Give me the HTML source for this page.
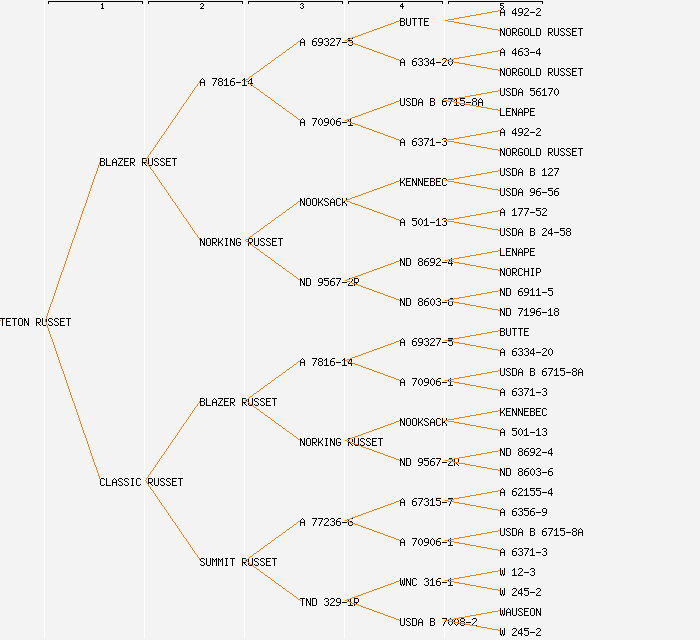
<!DOCTYPE html>
<html><head><meta charset="utf-8"><title>Pedigree: TETON RUSSET</title>
<style>
html,body{margin:0;padding:0;background:#f3f3f3;width:700px;height:640px;overflow:hidden;font-family:"Liberation Mono",monospace;}
svg{display:block;position:absolute;left:0;top:0;}
</style></head><body>
<svg width="700" height="640" viewBox="0 0 700 640" shape-rendering="crispEdges">
<defs><path id="gm" d="M0 4h5v1h-5z"/><path id="g0" d="M2 0h1v1h-1zM1 1h1v1h-1zM3 1h1v1h-1zM0 2h1v1h-1zM4 2h1v1h-1zM0 3h1v1h-1zM4 3h1v1h-1zM0 4h1v1h-1zM4 4h1v1h-1zM0 5h1v1h-1zM4 5h1v1h-1zM1 6h1v1h-1zM3 6h1v1h-1zM2 7h1v1h-1z"/><path id="g1" d="M2 0h1v1h-1zM1 1h2v1h-2zM0 2h1v1h-1zM2 2h1v1h-1zM2 3h1v1h-1zM2 4h1v1h-1zM2 5h1v1h-1zM2 6h1v1h-1zM0 7h5v1h-5z"/><path id="g2" d="M1 0h3v1h-3zM0 1h1v1h-1zM4 1h1v1h-1zM4 2h1v1h-1zM3 3h1v1h-1zM2 4h1v1h-1zM1 5h1v1h-1zM0 6h1v1h-1zM0 7h5v1h-5z"/><path id="g3" d="M1 0h3v1h-3zM0 1h1v1h-1zM4 1h1v1h-1zM4 2h1v1h-1zM2 3h2v1h-2zM4 4h1v1h-1zM4 5h1v1h-1zM0 6h1v1h-1zM4 6h1v1h-1zM1 7h3v1h-3z"/><path id="g4" d="M3 0h1v1h-1zM2 1h2v1h-2zM1 2h1v1h-1zM3 2h1v1h-1zM0 3h1v1h-1zM3 3h1v1h-1zM0 4h1v1h-1zM3 4h1v1h-1zM0 5h5v1h-5zM3 6h1v1h-1zM3 7h1v1h-1z"/><path id="g5" d="M0 0h5v1h-5zM0 1h1v1h-1zM0 2h4v1h-4zM4 3h1v1h-1zM4 4h1v1h-1zM4 5h1v1h-1zM0 6h1v1h-1zM4 6h1v1h-1zM1 7h3v1h-3z"/><path id="g6" d="M2 0h3v1h-3zM1 1h1v1h-1zM0 2h1v1h-1zM0 3h4v1h-4zM0 4h1v1h-1zM4 4h1v1h-1zM0 5h1v1h-1zM4 5h1v1h-1zM0 6h1v1h-1zM4 6h1v1h-1zM1 7h3v1h-3z"/><path id="g7" d="M0 0h5v1h-5zM4 1h1v1h-1zM3 2h1v1h-1zM3 3h1v1h-1zM2 4h1v1h-1zM2 5h1v1h-1zM1 6h1v1h-1zM1 7h1v1h-1z"/><path id="g8" d="M1 0h3v1h-3zM0 1h1v1h-1zM4 1h1v1h-1zM0 2h1v1h-1zM4 2h1v1h-1zM1 3h3v1h-3zM0 4h1v1h-1zM4 4h1v1h-1zM0 5h1v1h-1zM4 5h1v1h-1zM0 6h1v1h-1zM4 6h1v1h-1zM1 7h3v1h-3z"/><path id="g9" d="M1 0h3v1h-3zM0 1h1v1h-1zM4 1h1v1h-1zM0 2h1v1h-1zM4 2h1v1h-1zM0 3h1v1h-1zM4 3h1v1h-1zM1 4h4v1h-4zM4 5h1v1h-1zM3 6h1v1h-1zM0 7h3v1h-3z"/><path id="gA" d="M2 0h1v1h-1zM1 1h1v1h-1zM3 1h1v1h-1zM0 2h1v1h-1zM4 2h1v1h-1zM0 3h1v1h-1zM4 3h1v1h-1zM0 4h5v1h-5zM0 5h1v1h-1zM4 5h1v1h-1zM0 6h1v1h-1zM4 6h1v1h-1zM0 7h1v1h-1zM4 7h1v1h-1z"/><path id="gB" d="M0 0h4v1h-4zM0 1h1v1h-1zM4 1h1v1h-1zM0 2h1v1h-1zM4 2h1v1h-1zM0 3h4v1h-4zM0 4h1v1h-1zM4 4h1v1h-1zM0 5h1v1h-1zM4 5h1v1h-1zM0 6h1v1h-1zM4 6h1v1h-1zM0 7h4v1h-4z"/><path id="gC" d="M1 0h3v1h-3zM0 1h1v1h-1zM4 1h1v1h-1zM0 2h1v1h-1zM0 3h1v1h-1zM0 4h1v1h-1zM0 5h1v1h-1zM0 6h1v1h-1zM4 6h1v1h-1zM1 7h3v1h-3z"/><path id="gD" d="M0 0h4v1h-4zM0 1h1v1h-1zM4 1h1v1h-1zM0 2h1v1h-1zM4 2h1v1h-1zM0 3h1v1h-1zM4 3h1v1h-1zM0 4h1v1h-1zM4 4h1v1h-1zM0 5h1v1h-1zM4 5h1v1h-1zM0 6h1v1h-1zM4 6h1v1h-1zM0 7h4v1h-4z"/><path id="gE" d="M0 0h5v1h-5zM0 1h1v1h-1zM0 2h1v1h-1zM0 3h4v1h-4zM0 4h1v1h-1zM0 5h1v1h-1zM0 6h1v1h-1zM0 7h5v1h-5z"/><path id="gG" d="M1 0h3v1h-3zM0 1h1v1h-1zM4 1h1v1h-1zM0 2h1v1h-1zM0 3h1v1h-1zM0 4h1v1h-1zM2 4h3v1h-3zM0 5h1v1h-1zM4 5h1v1h-1zM0 6h1v1h-1zM4 6h1v1h-1zM1 7h3v1h-3z"/><path id="gH" d="M0 0h1v1h-1zM4 0h1v1h-1zM0 1h1v1h-1zM4 1h1v1h-1zM0 2h1v1h-1zM4 2h1v1h-1zM0 3h5v1h-5zM0 4h1v1h-1zM4 4h1v1h-1zM0 5h1v1h-1zM4 5h1v1h-1zM0 6h1v1h-1zM4 6h1v1h-1zM0 7h1v1h-1zM4 7h1v1h-1z"/><path id="gI" d="M1 0h3v1h-3zM2 1h1v1h-1zM2 2h1v1h-1zM2 3h1v1h-1zM2 4h1v1h-1zM2 5h1v1h-1zM2 6h1v1h-1zM1 7h3v1h-3z"/><path id="gK" d="M0 0h1v1h-1zM4 0h1v1h-1zM0 1h1v1h-1zM4 1h1v1h-1zM0 2h1v1h-1zM3 2h1v1h-1zM0 3h1v1h-1zM2 3h1v1h-1zM0 4h3v1h-3zM0 5h1v1h-1zM3 5h1v1h-1zM0 6h1v1h-1zM4 6h1v1h-1zM0 7h1v1h-1zM4 7h1v1h-1z"/><path id="gL" d="M0 0h1v1h-1zM0 1h1v1h-1zM0 2h1v1h-1zM0 3h1v1h-1zM0 4h1v1h-1zM0 5h1v1h-1zM0 6h1v1h-1zM0 7h5v1h-5z"/><path id="gM" d="M0 0h1v1h-1zM4 0h1v1h-1zM0 1h2v1h-2zM3 1h2v1h-2zM0 2h1v1h-1zM2 2h1v1h-1zM4 2h1v1h-1zM0 3h1v1h-1zM2 3h1v1h-1zM4 3h1v1h-1zM0 4h1v1h-1zM4 4h1v1h-1zM0 5h1v1h-1zM4 5h1v1h-1zM0 6h1v1h-1zM4 6h1v1h-1zM0 7h1v1h-1zM4 7h1v1h-1z"/><path id="gN" d="M0 0h1v1h-1zM4 0h1v1h-1zM0 1h2v1h-2zM4 1h1v1h-1zM0 2h2v1h-2zM4 2h1v1h-1zM0 3h1v1h-1zM2 3h1v1h-1zM4 3h1v1h-1zM0 4h1v1h-1zM2 4h1v1h-1zM4 4h1v1h-1zM0 5h1v1h-1zM3 5h2v1h-2zM0 6h1v1h-1zM3 6h2v1h-2zM0 7h1v1h-1zM4 7h1v1h-1z"/><path id="gO" d="M1 0h3v1h-3zM0 1h1v1h-1zM4 1h1v1h-1zM0 2h1v1h-1zM4 2h1v1h-1zM0 3h1v1h-1zM4 3h1v1h-1zM0 4h1v1h-1zM4 4h1v1h-1zM0 5h1v1h-1zM4 5h1v1h-1zM0 6h1v1h-1zM4 6h1v1h-1zM1 7h3v1h-3z"/><path id="gP" d="M0 0h4v1h-4zM0 1h1v1h-1zM4 1h1v1h-1zM0 2h1v1h-1zM4 2h1v1h-1zM0 3h1v1h-1zM4 3h1v1h-1zM0 4h4v1h-4zM0 5h1v1h-1zM0 6h1v1h-1zM0 7h1v1h-1z"/><path id="gR" d="M0 0h4v1h-4zM0 1h1v1h-1zM4 1h1v1h-1zM0 2h1v1h-1zM4 2h1v1h-1zM0 3h1v1h-1zM4 3h1v1h-1zM0 4h4v1h-4zM0 5h1v1h-1zM2 5h1v1h-1zM0 6h1v1h-1zM3 6h1v1h-1zM0 7h1v1h-1zM4 7h1v1h-1z"/><path id="gS" d="M1 0h3v1h-3zM0 1h1v1h-1zM4 1h1v1h-1zM0 2h1v1h-1zM1 3h2v1h-2zM3 4h1v1h-1zM4 5h1v1h-1zM0 6h1v1h-1zM4 6h1v1h-1zM1 7h3v1h-3z"/><path id="gT" d="M0 0h5v1h-5zM2 1h1v1h-1zM2 2h1v1h-1zM2 3h1v1h-1zM2 4h1v1h-1zM2 5h1v1h-1zM2 6h1v1h-1zM2 7h1v1h-1z"/><path id="gU" d="M0 0h1v1h-1zM4 0h1v1h-1zM0 1h1v1h-1zM4 1h1v1h-1zM0 2h1v1h-1zM4 2h1v1h-1zM0 3h1v1h-1zM4 3h1v1h-1zM0 4h1v1h-1zM4 4h1v1h-1zM0 5h1v1h-1zM4 5h1v1h-1zM0 6h1v1h-1zM4 6h1v1h-1zM1 7h3v1h-3z"/><path id="gW" d="M0 0h1v1h-1zM4 0h1v1h-1zM0 1h1v1h-1zM4 1h1v1h-1zM0 2h1v1h-1zM2 2h1v1h-1zM4 2h1v1h-1zM0 3h1v1h-1zM2 3h1v1h-1zM4 3h1v1h-1zM0 4h1v1h-1zM2 4h1v1h-1zM4 4h1v1h-1zM0 5h1v1h-1zM2 5h1v1h-1zM4 5h1v1h-1zM0 6h2v1h-2zM3 6h2v1h-2zM1 7h1v1h-1zM3 7h1v1h-1z"/><path id="gZ" d="M0 0h5v1h-5zM4 1h1v1h-1zM3 2h1v1h-1zM2 3h1v1h-1zM2 4h1v1h-1zM1 5h1v1h-1zM0 6h1v1h-1zM0 7h5v1h-5z"/><path id="h1" d="M2 0h1v1h-1zM1 1h2v1h-2zM2 2h1v1h-1zM2 3h1v1h-1zM2 4h1v1h-1zM1 5h3v1h-3z"/><path id="h2" d="M1 0h2v1h-2zM0 1h1v1h-1zM3 1h1v1h-1zM3 2h1v1h-1zM2 3h1v1h-1zM1 4h1v1h-1zM0 5h4v1h-4z"/><path id="h3" d="M1 0h2v1h-2zM0 1h1v1h-1zM3 1h1v1h-1zM2 2h1v1h-1zM3 3h1v1h-1zM0 4h1v1h-1zM3 4h1v1h-1zM1 5h2v1h-2z"/><path id="h4" d="M2 0h1v1h-1zM1 1h2v1h-2zM0 2h1v1h-1zM2 2h1v1h-1zM0 3h4v1h-4zM2 4h1v1h-1zM2 5h1v1h-1z"/><path id="h5" d="M0 0h4v1h-4zM0 1h1v1h-1zM0 2h3v1h-3zM3 3h1v1h-1zM0 4h1v1h-1zM3 4h1v1h-1zM1 5h2v1h-2z"/></defs>
<rect x="0" y="0" width="700" height="640" fill="#f3f3f3"/>
<rect x="44" y="0" width="1" height="638" fill="#ffffff"/><rect x="144" y="0" width="1" height="638" fill="#ffffff"/><rect x="244" y="0" width="1" height="638" fill="#ffffff"/><rect x="344" y="0" width="1" height="638" fill="#ffffff"/><rect x="444" y="0" width="1" height="638" fill="#ffffff"/><path fill="#000" d="M48 1h95v3h-1v-2h-93v2h-1zM148 1h95v3h-1v-2h-93v2h-1zM248 1h95v3h-1v-2h-93v2h-1zM348 1h95v3h-1v-2h-93v2h-1zM448 1h95v3h-1v-2h-93v2h-1z"/><use href="#h1" x="100" y="3"/><use href="#h2" x="200" y="3"/><use href="#h3" x="300" y="3"/><use href="#h4" x="400" y="3"/><use href="#h5" x="500" y="3"/>
<g fill="#000">
<path fill="#ff8000" d="M0 320h1v1h-1z"/><g aria-label="TETON RUSSET"><use href="#gT" x="0" y="318"/><use href="#gE" x="6" y="318"/><use href="#gT" x="12" y="318"/><use href="#gO" x="18" y="318"/><use href="#gN" x="24" y="318"/><use href="#gR" x="36" y="318"/><use href="#gU" x="42" y="318"/><use href="#gS" x="48" y="318"/><use href="#gS" x="54" y="318"/><use href="#gE" x="60" y="318"/><use href="#gT" x="66" y="318"/></g><path fill="#ff8000" d="M45 319h1v2h-1zM46 316h1v3h-1zM47 313h1v3h-1zM48 310h1v3h-1zM49 307h1v3h-1zM50 304h1v3h-1zM51 302h1v2h-1zM52 299h1v3h-1zM53 296h1v3h-1zM54 293h1v3h-1zM55 290h1v3h-1zM56 287h1v3h-1zM57 284h1v3h-1zM58 281h1v3h-1zM59 278h1v3h-1zM60 275h1v3h-1zM61 272h1v3h-1zM62 270h1v2h-1zM63 267h1v3h-1zM64 264h1v3h-1zM65 261h1v3h-1zM66 258h1v3h-1zM67 255h1v3h-1zM68 252h1v3h-1zM69 249h1v3h-1zM70 246h1v3h-1zM71 243h1v3h-1zM72 240h1v3h-1zM73 238h1v2h-1zM74 235h1v3h-1zM75 232h1v3h-1zM76 229h1v3h-1zM77 226h1v3h-1zM78 223h1v3h-1zM79 220h1v3h-1zM80 217h1v3h-1zM81 214h1v3h-1zM82 211h1v3h-1zM83 208h1v3h-1zM84 206h1v2h-1zM85 203h1v3h-1zM86 200h1v3h-1zM87 197h1v3h-1zM88 194h1v3h-1zM89 191h1v3h-1zM90 188h1v3h-1zM91 185h1v3h-1zM92 182h1v3h-1zM93 179h1v3h-1zM94 176h1v3h-1zM95 174h1v2h-1zM96 171h1v3h-1zM97 168h1v3h-1zM98 165h1v3h-1zM99 162h1v3h-1zM100 160h1v2h-1zM45 320h1v2h-1zM46 322h1v3h-1zM47 325h1v3h-1zM48 328h1v3h-1zM49 331h1v3h-1zM50 334h1v3h-1zM51 337h1v2h-1zM52 339h1v3h-1zM53 342h1v3h-1zM54 345h1v3h-1zM55 348h1v3h-1zM56 351h1v3h-1zM57 354h1v3h-1zM58 357h1v3h-1zM59 360h1v3h-1zM60 363h1v3h-1zM61 366h1v3h-1zM62 369h1v2h-1zM63 371h1v3h-1zM64 374h1v3h-1zM65 377h1v3h-1zM66 380h1v3h-1zM67 383h1v3h-1zM68 386h1v3h-1zM69 389h1v3h-1zM70 392h1v3h-1zM71 395h1v3h-1zM72 398h1v3h-1zM73 401h1v2h-1zM74 403h1v3h-1zM75 406h1v3h-1zM76 409h1v3h-1zM77 412h1v3h-1zM78 415h1v3h-1zM79 418h1v3h-1zM80 421h1v3h-1zM81 424h1v3h-1zM82 427h1v3h-1zM83 430h1v3h-1zM84 433h1v2h-1zM85 435h1v3h-1zM86 438h1v3h-1zM87 441h1v3h-1zM88 444h1v3h-1zM89 447h1v3h-1zM90 450h1v3h-1zM91 453h1v3h-1zM92 456h1v3h-1zM93 459h1v3h-1zM94 462h1v3h-1zM95 465h1v2h-1zM96 467h1v3h-1zM97 470h1v3h-1zM98 473h1v3h-1zM99 476h1v3h-1zM100 479h1v2h-1z"/><g aria-label="BLAZER RUSSET"><use href="#gB" x="100" y="158"/><use href="#gL" x="106" y="158"/><use href="#gA" x="112" y="158"/><use href="#gZ" x="118" y="158"/><use href="#gE" x="124" y="158"/><use href="#gR" x="130" y="158"/><use href="#gR" x="142" y="158"/><use href="#gU" x="148" y="158"/><use href="#gS" x="154" y="158"/><use href="#gS" x="160" y="158"/><use href="#gE" x="166" y="158"/><use href="#gT" x="172" y="158"/></g><path fill="#ff8000" d="M145 160h1v1h-1zM146 158h1v2h-1zM147 157h1v1h-1zM148 155h1v2h-1zM149 154h1v1h-1zM150 152h1v2h-1zM151 151h1v1h-1zM152 150h1v1h-1zM153 148h1v2h-1zM154 147h1v1h-1zM155 145h1v2h-1zM156 144h1v1h-1zM157 142h1v2h-1zM158 141h1v1h-1zM159 139h1v2h-1zM160 138h1v1h-1zM161 136h1v2h-1zM162 135h1v1h-1zM163 134h1v1h-1zM164 132h1v2h-1zM165 131h1v1h-1zM166 129h1v2h-1zM167 128h1v1h-1zM168 126h1v2h-1zM169 125h1v1h-1zM170 123h1v2h-1zM171 122h1v1h-1zM172 120h1v2h-1zM173 119h1v1h-1zM174 118h1v1h-1zM175 116h1v2h-1zM176 115h1v1h-1zM177 113h1v2h-1zM178 112h1v1h-1zM179 110h1v2h-1zM180 109h1v1h-1zM181 107h1v2h-1zM182 106h1v1h-1zM183 104h1v2h-1zM184 103h1v1h-1zM185 102h1v1h-1zM186 100h1v2h-1zM187 99h1v1h-1zM188 97h1v2h-1zM189 96h1v1h-1zM190 94h1v2h-1zM191 93h1v1h-1zM192 91h1v2h-1zM193 90h1v1h-1zM194 88h1v2h-1zM195 87h1v1h-1zM196 86h1v1h-1zM197 84h1v2h-1zM198 83h1v1h-1zM199 81h1v2h-1zM200 80h1v1h-1zM145 160h1v1h-1zM146 161h1v2h-1zM147 163h1v1h-1zM148 164h1v2h-1zM149 166h1v1h-1zM150 167h1v2h-1zM151 169h1v1h-1zM152 170h1v1h-1zM153 171h1v2h-1zM154 173h1v1h-1zM155 174h1v2h-1zM156 176h1v1h-1zM157 177h1v2h-1zM158 179h1v1h-1zM159 180h1v2h-1zM160 182h1v1h-1zM161 183h1v2h-1zM162 185h1v1h-1zM163 186h1v1h-1zM164 187h1v2h-1zM165 189h1v1h-1zM166 190h1v2h-1zM167 192h1v1h-1zM168 193h1v2h-1zM169 195h1v1h-1zM170 196h1v2h-1zM171 198h1v1h-1zM172 199h1v2h-1zM173 201h1v1h-1zM174 202h1v1h-1zM175 203h1v2h-1zM176 205h1v1h-1zM177 206h1v2h-1zM178 208h1v1h-1zM179 209h1v2h-1zM180 211h1v1h-1zM181 212h1v2h-1zM182 214h1v1h-1zM183 215h1v2h-1zM184 217h1v1h-1zM185 218h1v1h-1zM186 219h1v2h-1zM187 221h1v1h-1zM188 222h1v2h-1zM189 224h1v1h-1zM190 225h1v2h-1zM191 227h1v1h-1zM192 228h1v2h-1zM193 230h1v1h-1zM194 231h1v2h-1zM195 233h1v1h-1zM196 234h1v1h-1zM197 235h1v2h-1zM198 237h1v1h-1zM199 238h1v2h-1zM200 240h1v1h-1z"/><g aria-label="A 7816-14"><use href="#gA" x="200" y="78"/><use href="#g7" x="212" y="78"/><use href="#g8" x="218" y="78"/><use href="#g1" x="224" y="78"/><use href="#g6" x="230" y="78"/><use href="#gm" x="236" y="78"/><use href="#g1" x="242" y="78"/><use href="#g4" x="248" y="78"/></g><path fill="#ff8000" d="M245 80h1v1h-1zM246 79h2v1h-2zM248 78h1v1h-1zM249 77h1v1h-1zM250 76h2v1h-2zM252 75h1v1h-1zM253 74h1v1h-1zM254 73h2v1h-2zM256 72h1v1h-1zM257 71h2v1h-2zM259 70h1v1h-1zM260 69h1v1h-1zM261 68h2v1h-2zM263 67h1v1h-1zM264 66h1v1h-1zM265 65h2v1h-2zM267 64h1v1h-1zM268 63h2v1h-2zM270 62h1v1h-1zM271 61h1v1h-1zM272 60h2v1h-2zM274 59h1v1h-1zM275 58h1v1h-1zM276 57h2v1h-2zM278 56h1v1h-1zM279 55h2v1h-2zM281 54h1v1h-1zM282 53h1v1h-1zM283 52h2v1h-2zM285 51h1v1h-1zM286 50h1v1h-1zM287 49h2v1h-2zM289 48h1v1h-1zM290 47h2v1h-2zM292 46h1v1h-1zM293 45h1v1h-1zM294 44h2v1h-2zM296 43h1v1h-1zM297 42h1v1h-1zM298 41h2v1h-2zM300 40h1v1h-1zM245 80h1v1h-1zM246 81h2v1h-2zM248 82h1v1h-1zM249 83h1v1h-1zM250 84h2v1h-2zM252 85h1v1h-1zM253 86h1v1h-1zM254 87h2v1h-2zM256 88h1v1h-1zM257 89h2v1h-2zM259 90h1v1h-1zM260 91h1v1h-1zM261 92h2v1h-2zM263 93h1v1h-1zM264 94h1v1h-1zM265 95h2v1h-2zM267 96h1v1h-1zM268 97h2v1h-2zM270 98h1v1h-1zM271 99h1v1h-1zM272 100h2v1h-2zM274 101h1v1h-1zM275 102h1v1h-1zM276 103h2v1h-2zM278 104h1v1h-1zM279 105h2v1h-2zM281 106h1v1h-1zM282 107h1v1h-1zM283 108h2v1h-2zM285 109h1v1h-1zM286 110h1v1h-1zM287 111h2v1h-2zM289 112h1v1h-1zM290 113h2v1h-2zM292 114h1v1h-1zM293 115h1v1h-1zM294 116h2v1h-2zM296 117h1v1h-1zM297 118h1v1h-1zM298 119h2v1h-2zM300 120h1v1h-1z"/><g aria-label="A 69327-5"><use href="#gA" x="300" y="38"/><use href="#g6" x="312" y="38"/><use href="#g9" x="318" y="38"/><use href="#g3" x="324" y="38"/><use href="#g2" x="330" y="38"/><use href="#g7" x="336" y="38"/><use href="#gm" x="342" y="38"/><use href="#g5" x="348" y="38"/></g><path fill="#ff8000" d="M345 40h2v1h-2zM347 39h3v1h-3zM350 38h2v1h-2zM352 37h3v1h-3zM355 36h3v1h-3zM358 35h3v1h-3zM361 34h2v1h-2zM363 33h3v1h-3zM366 32h3v1h-3zM369 31h3v1h-3zM372 30h2v1h-2zM374 29h3v1h-3zM377 28h3v1h-3zM380 27h3v1h-3zM383 26h2v1h-2zM385 25h3v1h-3zM388 24h3v1h-3zM391 23h3v1h-3zM394 22h2v1h-2zM396 21h3v1h-3zM399 20h2v1h-2zM345 40h2v1h-2zM347 41h3v1h-3zM350 42h2v1h-2zM352 43h3v1h-3zM355 44h3v1h-3zM358 45h3v1h-3zM361 46h2v1h-2zM363 47h3v1h-3zM366 48h3v1h-3zM369 49h3v1h-3zM372 50h2v1h-2zM374 51h3v1h-3zM377 52h3v1h-3zM380 53h3v1h-3zM383 54h2v1h-2zM385 55h3v1h-3zM388 56h3v1h-3zM391 57h3v1h-3zM394 58h2v1h-2zM396 59h3v1h-3zM399 60h2v1h-2z"/><g aria-label="BUTTE"><use href="#gB" x="400" y="18"/><use href="#gU" x="406" y="18"/><use href="#gT" x="412" y="18"/><use href="#gT" x="418" y="18"/><use href="#gE" x="424" y="18"/></g><path fill="#ff8000" d="M445 20h3v1h-3zM448 19h6v1h-6zM454 18h5v1h-5zM459 17h6v1h-6zM465 16h5v1h-5zM470 15h6v1h-6zM476 14h5v1h-5zM481 13h6v1h-6zM487 12h5v1h-5zM492 11h6v1h-6zM498 10h3v1h-3zM445 20h3v1h-3zM448 21h6v1h-6zM454 22h5v1h-5zM459 23h6v1h-6zM465 24h5v1h-5zM470 25h6v1h-6zM476 26h5v1h-5zM481 27h6v1h-6zM487 28h5v1h-5zM492 29h6v1h-6zM498 30h3v1h-3z"/><g aria-label="A 492-2"><use href="#gA" x="500" y="8"/><use href="#g4" x="512" y="8"/><use href="#g9" x="518" y="8"/><use href="#g2" x="524" y="8"/><use href="#gm" x="530" y="8"/><use href="#g2" x="536" y="8"/></g><g aria-label="NORGOLD RUSSET"><use href="#gN" x="500" y="28"/><use href="#gO" x="506" y="28"/><use href="#gR" x="512" y="28"/><use href="#gG" x="518" y="28"/><use href="#gO" x="524" y="28"/><use href="#gL" x="530" y="28"/><use href="#gD" x="536" y="28"/><use href="#gR" x="548" y="28"/><use href="#gU" x="554" y="28"/><use href="#gS" x="560" y="28"/><use href="#gS" x="566" y="28"/><use href="#gE" x="572" y="28"/><use href="#gT" x="578" y="28"/></g><g aria-label="A 6334-20"><use href="#gA" x="400" y="58"/><use href="#g6" x="412" y="58"/><use href="#g3" x="418" y="58"/><use href="#g3" x="424" y="58"/><use href="#g4" x="430" y="58"/><use href="#gm" x="436" y="58"/><use href="#g2" x="442" y="58"/><use href="#g0" x="448" y="58"/></g><path fill="#ff8000" d="M445 60h3v1h-3zM448 59h6v1h-6zM454 58h5v1h-5zM459 57h6v1h-6zM465 56h5v1h-5zM470 55h6v1h-6zM476 54h5v1h-5zM481 53h6v1h-6zM487 52h5v1h-5zM492 51h6v1h-6zM498 50h3v1h-3zM445 60h3v1h-3zM448 61h6v1h-6zM454 62h5v1h-5zM459 63h6v1h-6zM465 64h5v1h-5zM470 65h6v1h-6zM476 66h5v1h-5zM481 67h6v1h-6zM487 68h5v1h-5zM492 69h6v1h-6zM498 70h3v1h-3z"/><g aria-label="A 463-4"><use href="#gA" x="500" y="48"/><use href="#g4" x="512" y="48"/><use href="#g6" x="518" y="48"/><use href="#g3" x="524" y="48"/><use href="#gm" x="530" y="48"/><use href="#g4" x="536" y="48"/></g><g aria-label="NORGOLD RUSSET"><use href="#gN" x="500" y="68"/><use href="#gO" x="506" y="68"/><use href="#gR" x="512" y="68"/><use href="#gG" x="518" y="68"/><use href="#gO" x="524" y="68"/><use href="#gL" x="530" y="68"/><use href="#gD" x="536" y="68"/><use href="#gR" x="548" y="68"/><use href="#gU" x="554" y="68"/><use href="#gS" x="560" y="68"/><use href="#gS" x="566" y="68"/><use href="#gE" x="572" y="68"/><use href="#gT" x="578" y="68"/></g><g aria-label="A 70906-1"><use href="#gA" x="300" y="118"/><use href="#g7" x="312" y="118"/><use href="#g0" x="318" y="118"/><use href="#g9" x="324" y="118"/><use href="#g0" x="330" y="118"/><use href="#g6" x="336" y="118"/><use href="#gm" x="342" y="118"/><use href="#g1" x="348" y="118"/></g><path fill="#ff8000" d="M345 120h2v1h-2zM347 119h3v1h-3zM350 118h2v1h-2zM352 117h3v1h-3zM355 116h3v1h-3zM358 115h3v1h-3zM361 114h2v1h-2zM363 113h3v1h-3zM366 112h3v1h-3zM369 111h3v1h-3zM372 110h2v1h-2zM374 109h3v1h-3zM377 108h3v1h-3zM380 107h3v1h-3zM383 106h2v1h-2zM385 105h3v1h-3zM388 104h3v1h-3zM391 103h3v1h-3zM394 102h2v1h-2zM396 101h3v1h-3zM399 100h2v1h-2zM345 120h2v1h-2zM347 121h3v1h-3zM350 122h2v1h-2zM352 123h3v1h-3zM355 124h3v1h-3zM358 125h3v1h-3zM361 126h2v1h-2zM363 127h3v1h-3zM366 128h3v1h-3zM369 129h3v1h-3zM372 130h2v1h-2zM374 131h3v1h-3zM377 132h3v1h-3zM380 133h3v1h-3zM383 134h2v1h-2zM385 135h3v1h-3zM388 136h3v1h-3zM391 137h3v1h-3zM394 138h2v1h-2zM396 139h3v1h-3zM399 140h2v1h-2z"/><g aria-label="USDA B 6715-8A"><use href="#gU" x="400" y="98"/><use href="#gS" x="406" y="98"/><use href="#gD" x="412" y="98"/><use href="#gA" x="418" y="98"/><use href="#gB" x="430" y="98"/><use href="#g6" x="442" y="98"/><use href="#g7" x="448" y="98"/><use href="#g1" x="454" y="98"/><use href="#g5" x="460" y="98"/><use href="#gm" x="466" y="98"/><use href="#g8" x="472" y="98"/><use href="#gA" x="478" y="98"/></g><path fill="#ff8000" d="M445 100h3v1h-3zM448 99h6v1h-6zM454 98h5v1h-5zM459 97h6v1h-6zM465 96h5v1h-5zM470 95h6v1h-6zM476 94h5v1h-5zM481 93h6v1h-6zM487 92h5v1h-5zM492 91h6v1h-6zM498 90h3v1h-3zM445 100h3v1h-3zM448 101h6v1h-6zM454 102h5v1h-5zM459 103h6v1h-6zM465 104h5v1h-5zM470 105h6v1h-6zM476 106h5v1h-5zM481 107h6v1h-6zM487 108h5v1h-5zM492 109h6v1h-6zM498 110h3v1h-3z"/><g aria-label="USDA 56170"><use href="#gU" x="500" y="88"/><use href="#gS" x="506" y="88"/><use href="#gD" x="512" y="88"/><use href="#gA" x="518" y="88"/><use href="#g5" x="530" y="88"/><use href="#g6" x="536" y="88"/><use href="#g1" x="542" y="88"/><use href="#g7" x="548" y="88"/><use href="#g0" x="554" y="88"/></g><g aria-label="LENAPE"><use href="#gL" x="500" y="108"/><use href="#gE" x="506" y="108"/><use href="#gN" x="512" y="108"/><use href="#gA" x="518" y="108"/><use href="#gP" x="524" y="108"/><use href="#gE" x="530" y="108"/></g><g aria-label="A 6371-3"><use href="#gA" x="400" y="138"/><use href="#g6" x="412" y="138"/><use href="#g3" x="418" y="138"/><use href="#g7" x="424" y="138"/><use href="#g1" x="430" y="138"/><use href="#gm" x="436" y="138"/><use href="#g3" x="442" y="138"/></g><path fill="#ff8000" d="M445 140h3v1h-3zM448 139h6v1h-6zM454 138h5v1h-5zM459 137h6v1h-6zM465 136h5v1h-5zM470 135h6v1h-6zM476 134h5v1h-5zM481 133h6v1h-6zM487 132h5v1h-5zM492 131h6v1h-6zM498 130h3v1h-3zM445 140h3v1h-3zM448 141h6v1h-6zM454 142h5v1h-5zM459 143h6v1h-6zM465 144h5v1h-5zM470 145h6v1h-6zM476 146h5v1h-5zM481 147h6v1h-6zM487 148h5v1h-5zM492 149h6v1h-6zM498 150h3v1h-3z"/><g aria-label="A 492-2"><use href="#gA" x="500" y="128"/><use href="#g4" x="512" y="128"/><use href="#g9" x="518" y="128"/><use href="#g2" x="524" y="128"/><use href="#gm" x="530" y="128"/><use href="#g2" x="536" y="128"/></g><g aria-label="NORGOLD RUSSET"><use href="#gN" x="500" y="148"/><use href="#gO" x="506" y="148"/><use href="#gR" x="512" y="148"/><use href="#gG" x="518" y="148"/><use href="#gO" x="524" y="148"/><use href="#gL" x="530" y="148"/><use href="#gD" x="536" y="148"/><use href="#gR" x="548" y="148"/><use href="#gU" x="554" y="148"/><use href="#gS" x="560" y="148"/><use href="#gS" x="566" y="148"/><use href="#gE" x="572" y="148"/><use href="#gT" x="578" y="148"/></g><g aria-label="NORKING RUSSET"><use href="#gN" x="200" y="238"/><use href="#gO" x="206" y="238"/><use href="#gR" x="212" y="238"/><use href="#gK" x="218" y="238"/><use href="#gI" x="224" y="238"/><use href="#gN" x="230" y="238"/><use href="#gG" x="236" y="238"/><use href="#gR" x="248" y="238"/><use href="#gU" x="254" y="238"/><use href="#gS" x="260" y="238"/><use href="#gS" x="266" y="238"/><use href="#gE" x="272" y="238"/><use href="#gT" x="278" y="238"/></g><path fill="#ff8000" d="M245 240h1v1h-1zM246 239h2v1h-2zM248 238h1v1h-1zM249 237h1v1h-1zM250 236h2v1h-2zM252 235h1v1h-1zM253 234h1v1h-1zM254 233h2v1h-2zM256 232h1v1h-1zM257 231h2v1h-2zM259 230h1v1h-1zM260 229h1v1h-1zM261 228h2v1h-2zM263 227h1v1h-1zM264 226h1v1h-1zM265 225h2v1h-2zM267 224h1v1h-1zM268 223h2v1h-2zM270 222h1v1h-1zM271 221h1v1h-1zM272 220h2v1h-2zM274 219h1v1h-1zM275 218h1v1h-1zM276 217h2v1h-2zM278 216h1v1h-1zM279 215h2v1h-2zM281 214h1v1h-1zM282 213h1v1h-1zM283 212h2v1h-2zM285 211h1v1h-1zM286 210h1v1h-1zM287 209h2v1h-2zM289 208h1v1h-1zM290 207h2v1h-2zM292 206h1v1h-1zM293 205h1v1h-1zM294 204h2v1h-2zM296 203h1v1h-1zM297 202h1v1h-1zM298 201h2v1h-2zM300 200h1v1h-1zM245 240h1v1h-1zM246 241h2v1h-2zM248 242h1v1h-1zM249 243h1v1h-1zM250 244h2v1h-2zM252 245h1v1h-1zM253 246h1v1h-1zM254 247h2v1h-2zM256 248h1v1h-1zM257 249h2v1h-2zM259 250h1v1h-1zM260 251h1v1h-1zM261 252h2v1h-2zM263 253h1v1h-1zM264 254h1v1h-1zM265 255h2v1h-2zM267 256h1v1h-1zM268 257h2v1h-2zM270 258h1v1h-1zM271 259h1v1h-1zM272 260h2v1h-2zM274 261h1v1h-1zM275 262h1v1h-1zM276 263h2v1h-2zM278 264h1v1h-1zM279 265h2v1h-2zM281 266h1v1h-1zM282 267h1v1h-1zM283 268h2v1h-2zM285 269h1v1h-1zM286 270h1v1h-1zM287 271h2v1h-2zM289 272h1v1h-1zM290 273h2v1h-2zM292 274h1v1h-1zM293 275h1v1h-1zM294 276h2v1h-2zM296 277h1v1h-1zM297 278h1v1h-1zM298 279h2v1h-2zM300 280h1v1h-1z"/><g aria-label="NOOKSACK"><use href="#gN" x="300" y="198"/><use href="#gO" x="306" y="198"/><use href="#gO" x="312" y="198"/><use href="#gK" x="318" y="198"/><use href="#gS" x="324" y="198"/><use href="#gA" x="330" y="198"/><use href="#gC" x="336" y="198"/><use href="#gK" x="342" y="198"/></g><path fill="#ff8000" d="M345 200h2v1h-2zM347 199h3v1h-3zM350 198h2v1h-2zM352 197h3v1h-3zM355 196h3v1h-3zM358 195h3v1h-3zM361 194h2v1h-2zM363 193h3v1h-3zM366 192h3v1h-3zM369 191h3v1h-3zM372 190h2v1h-2zM374 189h3v1h-3zM377 188h3v1h-3zM380 187h3v1h-3zM383 186h2v1h-2zM385 185h3v1h-3zM388 184h3v1h-3zM391 183h3v1h-3zM394 182h2v1h-2zM396 181h3v1h-3zM399 180h2v1h-2zM345 200h2v1h-2zM347 201h3v1h-3zM350 202h2v1h-2zM352 203h3v1h-3zM355 204h3v1h-3zM358 205h3v1h-3zM361 206h2v1h-2zM363 207h3v1h-3zM366 208h3v1h-3zM369 209h3v1h-3zM372 210h2v1h-2zM374 211h3v1h-3zM377 212h3v1h-3zM380 213h3v1h-3zM383 214h2v1h-2zM385 215h3v1h-3zM388 216h3v1h-3zM391 217h3v1h-3zM394 218h2v1h-2zM396 219h3v1h-3zM399 220h2v1h-2z"/><g aria-label="KENNEBEC"><use href="#gK" x="400" y="178"/><use href="#gE" x="406" y="178"/><use href="#gN" x="412" y="178"/><use href="#gN" x="418" y="178"/><use href="#gE" x="424" y="178"/><use href="#gB" x="430" y="178"/><use href="#gE" x="436" y="178"/><use href="#gC" x="442" y="178"/></g><path fill="#ff8000" d="M445 180h3v1h-3zM448 179h6v1h-6zM454 178h5v1h-5zM459 177h6v1h-6zM465 176h5v1h-5zM470 175h6v1h-6zM476 174h5v1h-5zM481 173h6v1h-6zM487 172h5v1h-5zM492 171h6v1h-6zM498 170h3v1h-3zM445 180h3v1h-3zM448 181h6v1h-6zM454 182h5v1h-5zM459 183h6v1h-6zM465 184h5v1h-5zM470 185h6v1h-6zM476 186h5v1h-5zM481 187h6v1h-6zM487 188h5v1h-5zM492 189h6v1h-6zM498 190h3v1h-3z"/><g aria-label="USDA B 127"><use href="#gU" x="500" y="168"/><use href="#gS" x="506" y="168"/><use href="#gD" x="512" y="168"/><use href="#gA" x="518" y="168"/><use href="#gB" x="530" y="168"/><use href="#g1" x="542" y="168"/><use href="#g2" x="548" y="168"/><use href="#g7" x="554" y="168"/></g><g aria-label="USDA 96-56"><use href="#gU" x="500" y="188"/><use href="#gS" x="506" y="188"/><use href="#gD" x="512" y="188"/><use href="#gA" x="518" y="188"/><use href="#g9" x="530" y="188"/><use href="#g6" x="536" y="188"/><use href="#gm" x="542" y="188"/><use href="#g5" x="548" y="188"/><use href="#g6" x="554" y="188"/></g><g aria-label="A 501-13"><use href="#gA" x="400" y="218"/><use href="#g5" x="412" y="218"/><use href="#g0" x="418" y="218"/><use href="#g1" x="424" y="218"/><use href="#gm" x="430" y="218"/><use href="#g1" x="436" y="218"/><use href="#g3" x="442" y="218"/></g><path fill="#ff8000" d="M445 220h3v1h-3zM448 219h6v1h-6zM454 218h5v1h-5zM459 217h6v1h-6zM465 216h5v1h-5zM470 215h6v1h-6zM476 214h5v1h-5zM481 213h6v1h-6zM487 212h5v1h-5zM492 211h6v1h-6zM498 210h3v1h-3zM445 220h3v1h-3zM448 221h6v1h-6zM454 222h5v1h-5zM459 223h6v1h-6zM465 224h5v1h-5zM470 225h6v1h-6zM476 226h5v1h-5zM481 227h6v1h-6zM487 228h5v1h-5zM492 229h6v1h-6zM498 230h3v1h-3z"/><g aria-label="A 177-52"><use href="#gA" x="500" y="208"/><use href="#g1" x="512" y="208"/><use href="#g7" x="518" y="208"/><use href="#g7" x="524" y="208"/><use href="#gm" x="530" y="208"/><use href="#g5" x="536" y="208"/><use href="#g2" x="542" y="208"/></g><g aria-label="USDA B 24-58"><use href="#gU" x="500" y="228"/><use href="#gS" x="506" y="228"/><use href="#gD" x="512" y="228"/><use href="#gA" x="518" y="228"/><use href="#gB" x="530" y="228"/><use href="#g2" x="542" y="228"/><use href="#g4" x="548" y="228"/><use href="#gm" x="554" y="228"/><use href="#g5" x="560" y="228"/><use href="#g8" x="566" y="228"/></g><g aria-label="ND 9567-2R"><use href="#gN" x="300" y="278"/><use href="#gD" x="306" y="278"/><use href="#g9" x="318" y="278"/><use href="#g5" x="324" y="278"/><use href="#g6" x="330" y="278"/><use href="#g7" x="336" y="278"/><use href="#gm" x="342" y="278"/><use href="#g2" x="348" y="278"/><use href="#gR" x="354" y="278"/></g><path fill="#ff8000" d="M345 280h2v1h-2zM347 279h3v1h-3zM350 278h2v1h-2zM352 277h3v1h-3zM355 276h3v1h-3zM358 275h3v1h-3zM361 274h2v1h-2zM363 273h3v1h-3zM366 272h3v1h-3zM369 271h3v1h-3zM372 270h2v1h-2zM374 269h3v1h-3zM377 268h3v1h-3zM380 267h3v1h-3zM383 266h2v1h-2zM385 265h3v1h-3zM388 264h3v1h-3zM391 263h3v1h-3zM394 262h2v1h-2zM396 261h3v1h-3zM399 260h2v1h-2zM345 280h2v1h-2zM347 281h3v1h-3zM350 282h2v1h-2zM352 283h3v1h-3zM355 284h3v1h-3zM358 285h3v1h-3zM361 286h2v1h-2zM363 287h3v1h-3zM366 288h3v1h-3zM369 289h3v1h-3zM372 290h2v1h-2zM374 291h3v1h-3zM377 292h3v1h-3zM380 293h3v1h-3zM383 294h2v1h-2zM385 295h3v1h-3zM388 296h3v1h-3zM391 297h3v1h-3zM394 298h2v1h-2zM396 299h3v1h-3zM399 300h2v1h-2z"/><g aria-label="ND 8692-4"><use href="#gN" x="400" y="258"/><use href="#gD" x="406" y="258"/><use href="#g8" x="418" y="258"/><use href="#g6" x="424" y="258"/><use href="#g9" x="430" y="258"/><use href="#g2" x="436" y="258"/><use href="#gm" x="442" y="258"/><use href="#g4" x="448" y="258"/></g><path fill="#ff8000" d="M445 260h3v1h-3zM448 259h6v1h-6zM454 258h5v1h-5zM459 257h6v1h-6zM465 256h5v1h-5zM470 255h6v1h-6zM476 254h5v1h-5zM481 253h6v1h-6zM487 252h5v1h-5zM492 251h6v1h-6zM498 250h3v1h-3zM445 260h3v1h-3zM448 261h6v1h-6zM454 262h5v1h-5zM459 263h6v1h-6zM465 264h5v1h-5zM470 265h6v1h-6zM476 266h5v1h-5zM481 267h6v1h-6zM487 268h5v1h-5zM492 269h6v1h-6zM498 270h3v1h-3z"/><g aria-label="LENAPE"><use href="#gL" x="500" y="248"/><use href="#gE" x="506" y="248"/><use href="#gN" x="512" y="248"/><use href="#gA" x="518" y="248"/><use href="#gP" x="524" y="248"/><use href="#gE" x="530" y="248"/></g><g aria-label="NORCHIP"><use href="#gN" x="500" y="268"/><use href="#gO" x="506" y="268"/><use href="#gR" x="512" y="268"/><use href="#gC" x="518" y="268"/><use href="#gH" x="524" y="268"/><use href="#gI" x="530" y="268"/><use href="#gP" x="536" y="268"/></g><g aria-label="ND 8603-6"><use href="#gN" x="400" y="298"/><use href="#gD" x="406" y="298"/><use href="#g8" x="418" y="298"/><use href="#g6" x="424" y="298"/><use href="#g0" x="430" y="298"/><use href="#g3" x="436" y="298"/><use href="#gm" x="442" y="298"/><use href="#g6" x="448" y="298"/></g><path fill="#ff8000" d="M445 300h3v1h-3zM448 299h6v1h-6zM454 298h5v1h-5zM459 297h6v1h-6zM465 296h5v1h-5zM470 295h6v1h-6zM476 294h5v1h-5zM481 293h6v1h-6zM487 292h5v1h-5zM492 291h6v1h-6zM498 290h3v1h-3zM445 300h3v1h-3zM448 301h6v1h-6zM454 302h5v1h-5zM459 303h6v1h-6zM465 304h5v1h-5zM470 305h6v1h-6zM476 306h5v1h-5zM481 307h6v1h-6zM487 308h5v1h-5zM492 309h6v1h-6zM498 310h3v1h-3z"/><g aria-label="ND 6911-5"><use href="#gN" x="500" y="288"/><use href="#gD" x="506" y="288"/><use href="#g6" x="518" y="288"/><use href="#g9" x="524" y="288"/><use href="#g1" x="530" y="288"/><use href="#g1" x="536" y="288"/><use href="#gm" x="542" y="288"/><use href="#g5" x="548" y="288"/></g><g aria-label="ND 7196-18"><use href="#gN" x="500" y="308"/><use href="#gD" x="506" y="308"/><use href="#g7" x="518" y="308"/><use href="#g1" x="524" y="308"/><use href="#g9" x="530" y="308"/><use href="#g6" x="536" y="308"/><use href="#gm" x="542" y="308"/><use href="#g1" x="548" y="308"/><use href="#g8" x="554" y="308"/></g><g aria-label="CLASSIC RUSSET"><use href="#gC" x="100" y="478"/><use href="#gL" x="106" y="478"/><use href="#gA" x="112" y="478"/><use href="#gS" x="118" y="478"/><use href="#gS" x="124" y="478"/><use href="#gI" x="130" y="478"/><use href="#gC" x="136" y="478"/><use href="#gR" x="148" y="478"/><use href="#gU" x="154" y="478"/><use href="#gS" x="160" y="478"/><use href="#gS" x="166" y="478"/><use href="#gE" x="172" y="478"/><use href="#gT" x="178" y="478"/></g><path fill="#ff8000" d="M145 480h1v1h-1zM146 478h1v2h-1zM147 477h1v1h-1zM148 475h1v2h-1zM149 474h1v1h-1zM150 472h1v2h-1zM151 471h1v1h-1zM152 470h1v1h-1zM153 468h1v2h-1zM154 467h1v1h-1zM155 465h1v2h-1zM156 464h1v1h-1zM157 462h1v2h-1zM158 461h1v1h-1zM159 459h1v2h-1zM160 458h1v1h-1zM161 456h1v2h-1zM162 455h1v1h-1zM163 454h1v1h-1zM164 452h1v2h-1zM165 451h1v1h-1zM166 449h1v2h-1zM167 448h1v1h-1zM168 446h1v2h-1zM169 445h1v1h-1zM170 443h1v2h-1zM171 442h1v1h-1zM172 440h1v2h-1zM173 439h1v1h-1zM174 438h1v1h-1zM175 436h1v2h-1zM176 435h1v1h-1zM177 433h1v2h-1zM178 432h1v1h-1zM179 430h1v2h-1zM180 429h1v1h-1zM181 427h1v2h-1zM182 426h1v1h-1zM183 424h1v2h-1zM184 423h1v1h-1zM185 422h1v1h-1zM186 420h1v2h-1zM187 419h1v1h-1zM188 417h1v2h-1zM189 416h1v1h-1zM190 414h1v2h-1zM191 413h1v1h-1zM192 411h1v2h-1zM193 410h1v1h-1zM194 408h1v2h-1zM195 407h1v1h-1zM196 406h1v1h-1zM197 404h1v2h-1zM198 403h1v1h-1zM199 401h1v2h-1zM200 400h1v1h-1zM145 480h1v1h-1zM146 481h1v2h-1zM147 483h1v1h-1zM148 484h1v2h-1zM149 486h1v1h-1zM150 487h1v2h-1zM151 489h1v1h-1zM152 490h1v1h-1zM153 491h1v2h-1zM154 493h1v1h-1zM155 494h1v2h-1zM156 496h1v1h-1zM157 497h1v2h-1zM158 499h1v1h-1zM159 500h1v2h-1zM160 502h1v1h-1zM161 503h1v2h-1zM162 505h1v1h-1zM163 506h1v1h-1zM164 507h1v2h-1zM165 509h1v1h-1zM166 510h1v2h-1zM167 512h1v1h-1zM168 513h1v2h-1zM169 515h1v1h-1zM170 516h1v2h-1zM171 518h1v1h-1zM172 519h1v2h-1zM173 521h1v1h-1zM174 522h1v1h-1zM175 523h1v2h-1zM176 525h1v1h-1zM177 526h1v2h-1zM178 528h1v1h-1zM179 529h1v2h-1zM180 531h1v1h-1zM181 532h1v2h-1zM182 534h1v1h-1zM183 535h1v2h-1zM184 537h1v1h-1zM185 538h1v1h-1zM186 539h1v2h-1zM187 541h1v1h-1zM188 542h1v2h-1zM189 544h1v1h-1zM190 545h1v2h-1zM191 547h1v1h-1zM192 548h1v2h-1zM193 550h1v1h-1zM194 551h1v2h-1zM195 553h1v1h-1zM196 554h1v1h-1zM197 555h1v2h-1zM198 557h1v1h-1zM199 558h1v2h-1zM200 560h1v1h-1z"/><g aria-label="BLAZER RUSSET"><use href="#gB" x="200" y="398"/><use href="#gL" x="206" y="398"/><use href="#gA" x="212" y="398"/><use href="#gZ" x="218" y="398"/><use href="#gE" x="224" y="398"/><use href="#gR" x="230" y="398"/><use href="#gR" x="242" y="398"/><use href="#gU" x="248" y="398"/><use href="#gS" x="254" y="398"/><use href="#gS" x="260" y="398"/><use href="#gE" x="266" y="398"/><use href="#gT" x="272" y="398"/></g><path fill="#ff8000" d="M245 400h1v1h-1zM246 399h2v1h-2zM248 398h1v1h-1zM249 397h1v1h-1zM250 396h2v1h-2zM252 395h1v1h-1zM253 394h1v1h-1zM254 393h2v1h-2zM256 392h1v1h-1zM257 391h2v1h-2zM259 390h1v1h-1zM260 389h1v1h-1zM261 388h2v1h-2zM263 387h1v1h-1zM264 386h1v1h-1zM265 385h2v1h-2zM267 384h1v1h-1zM268 383h2v1h-2zM270 382h1v1h-1zM271 381h1v1h-1zM272 380h2v1h-2zM274 379h1v1h-1zM275 378h1v1h-1zM276 377h2v1h-2zM278 376h1v1h-1zM279 375h2v1h-2zM281 374h1v1h-1zM282 373h1v1h-1zM283 372h2v1h-2zM285 371h1v1h-1zM286 370h1v1h-1zM287 369h2v1h-2zM289 368h1v1h-1zM290 367h2v1h-2zM292 366h1v1h-1zM293 365h1v1h-1zM294 364h2v1h-2zM296 363h1v1h-1zM297 362h1v1h-1zM298 361h2v1h-2zM300 360h1v1h-1zM245 400h1v1h-1zM246 401h2v1h-2zM248 402h1v1h-1zM249 403h1v1h-1zM250 404h2v1h-2zM252 405h1v1h-1zM253 406h1v1h-1zM254 407h2v1h-2zM256 408h1v1h-1zM257 409h2v1h-2zM259 410h1v1h-1zM260 411h1v1h-1zM261 412h2v1h-2zM263 413h1v1h-1zM264 414h1v1h-1zM265 415h2v1h-2zM267 416h1v1h-1zM268 417h2v1h-2zM270 418h1v1h-1zM271 419h1v1h-1zM272 420h2v1h-2zM274 421h1v1h-1zM275 422h1v1h-1zM276 423h2v1h-2zM278 424h1v1h-1zM279 425h2v1h-2zM281 426h1v1h-1zM282 427h1v1h-1zM283 428h2v1h-2zM285 429h1v1h-1zM286 430h1v1h-1zM287 431h2v1h-2zM289 432h1v1h-1zM290 433h2v1h-2zM292 434h1v1h-1zM293 435h1v1h-1zM294 436h2v1h-2zM296 437h1v1h-1zM297 438h1v1h-1zM298 439h2v1h-2zM300 440h1v1h-1z"/><g aria-label="A 7816-14"><use href="#gA" x="300" y="358"/><use href="#g7" x="312" y="358"/><use href="#g8" x="318" y="358"/><use href="#g1" x="324" y="358"/><use href="#g6" x="330" y="358"/><use href="#gm" x="336" y="358"/><use href="#g1" x="342" y="358"/><use href="#g4" x="348" y="358"/></g><path fill="#ff8000" d="M345 360h2v1h-2zM347 359h3v1h-3zM350 358h2v1h-2zM352 357h3v1h-3zM355 356h3v1h-3zM358 355h3v1h-3zM361 354h2v1h-2zM363 353h3v1h-3zM366 352h3v1h-3zM369 351h3v1h-3zM372 350h2v1h-2zM374 349h3v1h-3zM377 348h3v1h-3zM380 347h3v1h-3zM383 346h2v1h-2zM385 345h3v1h-3zM388 344h3v1h-3zM391 343h3v1h-3zM394 342h2v1h-2zM396 341h3v1h-3zM399 340h2v1h-2zM345 360h2v1h-2zM347 361h3v1h-3zM350 362h2v1h-2zM352 363h3v1h-3zM355 364h3v1h-3zM358 365h3v1h-3zM361 366h2v1h-2zM363 367h3v1h-3zM366 368h3v1h-3zM369 369h3v1h-3zM372 370h2v1h-2zM374 371h3v1h-3zM377 372h3v1h-3zM380 373h3v1h-3zM383 374h2v1h-2zM385 375h3v1h-3zM388 376h3v1h-3zM391 377h3v1h-3zM394 378h2v1h-2zM396 379h3v1h-3zM399 380h2v1h-2z"/><g aria-label="A 69327-5"><use href="#gA" x="400" y="338"/><use href="#g6" x="412" y="338"/><use href="#g9" x="418" y="338"/><use href="#g3" x="424" y="338"/><use href="#g2" x="430" y="338"/><use href="#g7" x="436" y="338"/><use href="#gm" x="442" y="338"/><use href="#g5" x="448" y="338"/></g><path fill="#ff8000" d="M445 340h3v1h-3zM448 339h6v1h-6zM454 338h5v1h-5zM459 337h6v1h-6zM465 336h5v1h-5zM470 335h6v1h-6zM476 334h5v1h-5zM481 333h6v1h-6zM487 332h5v1h-5zM492 331h6v1h-6zM498 330h3v1h-3zM445 340h3v1h-3zM448 341h6v1h-6zM454 342h5v1h-5zM459 343h6v1h-6zM465 344h5v1h-5zM470 345h6v1h-6zM476 346h5v1h-5zM481 347h6v1h-6zM487 348h5v1h-5zM492 349h6v1h-6zM498 350h3v1h-3z"/><g aria-label="BUTTE"><use href="#gB" x="500" y="328"/><use href="#gU" x="506" y="328"/><use href="#gT" x="512" y="328"/><use href="#gT" x="518" y="328"/><use href="#gE" x="524" y="328"/></g><g aria-label="A 6334-20"><use href="#gA" x="500" y="348"/><use href="#g6" x="512" y="348"/><use href="#g3" x="518" y="348"/><use href="#g3" x="524" y="348"/><use href="#g4" x="530" y="348"/><use href="#gm" x="536" y="348"/><use href="#g2" x="542" y="348"/><use href="#g0" x="548" y="348"/></g><g aria-label="A 70906-1"><use href="#gA" x="400" y="378"/><use href="#g7" x="412" y="378"/><use href="#g0" x="418" y="378"/><use href="#g9" x="424" y="378"/><use href="#g0" x="430" y="378"/><use href="#g6" x="436" y="378"/><use href="#gm" x="442" y="378"/><use href="#g1" x="448" y="378"/></g><path fill="#ff8000" d="M445 380h3v1h-3zM448 379h6v1h-6zM454 378h5v1h-5zM459 377h6v1h-6zM465 376h5v1h-5zM470 375h6v1h-6zM476 374h5v1h-5zM481 373h6v1h-6zM487 372h5v1h-5zM492 371h6v1h-6zM498 370h3v1h-3zM445 380h3v1h-3zM448 381h6v1h-6zM454 382h5v1h-5zM459 383h6v1h-6zM465 384h5v1h-5zM470 385h6v1h-6zM476 386h5v1h-5zM481 387h6v1h-6zM487 388h5v1h-5zM492 389h6v1h-6zM498 390h3v1h-3z"/><g aria-label="USDA B 6715-8A"><use href="#gU" x="500" y="368"/><use href="#gS" x="506" y="368"/><use href="#gD" x="512" y="368"/><use href="#gA" x="518" y="368"/><use href="#gB" x="530" y="368"/><use href="#g6" x="542" y="368"/><use href="#g7" x="548" y="368"/><use href="#g1" x="554" y="368"/><use href="#g5" x="560" y="368"/><use href="#gm" x="566" y="368"/><use href="#g8" x="572" y="368"/><use href="#gA" x="578" y="368"/></g><g aria-label="A 6371-3"><use href="#gA" x="500" y="388"/><use href="#g6" x="512" y="388"/><use href="#g3" x="518" y="388"/><use href="#g7" x="524" y="388"/><use href="#g1" x="530" y="388"/><use href="#gm" x="536" y="388"/><use href="#g3" x="542" y="388"/></g><g aria-label="NORKING RUSSET"><use href="#gN" x="300" y="438"/><use href="#gO" x="306" y="438"/><use href="#gR" x="312" y="438"/><use href="#gK" x="318" y="438"/><use href="#gI" x="324" y="438"/><use href="#gN" x="330" y="438"/><use href="#gG" x="336" y="438"/><use href="#gR" x="348" y="438"/><use href="#gU" x="354" y="438"/><use href="#gS" x="360" y="438"/><use href="#gS" x="366" y="438"/><use href="#gE" x="372" y="438"/><use href="#gT" x="378" y="438"/></g><path fill="#ff8000" d="M345 440h2v1h-2zM347 439h3v1h-3zM350 438h2v1h-2zM352 437h3v1h-3zM355 436h3v1h-3zM358 435h3v1h-3zM361 434h2v1h-2zM363 433h3v1h-3zM366 432h3v1h-3zM369 431h3v1h-3zM372 430h2v1h-2zM374 429h3v1h-3zM377 428h3v1h-3zM380 427h3v1h-3zM383 426h2v1h-2zM385 425h3v1h-3zM388 424h3v1h-3zM391 423h3v1h-3zM394 422h2v1h-2zM396 421h3v1h-3zM399 420h2v1h-2zM345 440h2v1h-2zM347 441h3v1h-3zM350 442h2v1h-2zM352 443h3v1h-3zM355 444h3v1h-3zM358 445h3v1h-3zM361 446h2v1h-2zM363 447h3v1h-3zM366 448h3v1h-3zM369 449h3v1h-3zM372 450h2v1h-2zM374 451h3v1h-3zM377 452h3v1h-3zM380 453h3v1h-3zM383 454h2v1h-2zM385 455h3v1h-3zM388 456h3v1h-3zM391 457h3v1h-3zM394 458h2v1h-2zM396 459h3v1h-3zM399 460h2v1h-2z"/><g aria-label="NOOKSACK"><use href="#gN" x="400" y="418"/><use href="#gO" x="406" y="418"/><use href="#gO" x="412" y="418"/><use href="#gK" x="418" y="418"/><use href="#gS" x="424" y="418"/><use href="#gA" x="430" y="418"/><use href="#gC" x="436" y="418"/><use href="#gK" x="442" y="418"/></g><path fill="#ff8000" d="M445 420h3v1h-3zM448 419h6v1h-6zM454 418h5v1h-5zM459 417h6v1h-6zM465 416h5v1h-5zM470 415h6v1h-6zM476 414h5v1h-5zM481 413h6v1h-6zM487 412h5v1h-5zM492 411h6v1h-6zM498 410h3v1h-3zM445 420h3v1h-3zM448 421h6v1h-6zM454 422h5v1h-5zM459 423h6v1h-6zM465 424h5v1h-5zM470 425h6v1h-6zM476 426h5v1h-5zM481 427h6v1h-6zM487 428h5v1h-5zM492 429h6v1h-6zM498 430h3v1h-3z"/><g aria-label="KENNEBEC"><use href="#gK" x="500" y="408"/><use href="#gE" x="506" y="408"/><use href="#gN" x="512" y="408"/><use href="#gN" x="518" y="408"/><use href="#gE" x="524" y="408"/><use href="#gB" x="530" y="408"/><use href="#gE" x="536" y="408"/><use href="#gC" x="542" y="408"/></g><g aria-label="A 501-13"><use href="#gA" x="500" y="428"/><use href="#g5" x="512" y="428"/><use href="#g0" x="518" y="428"/><use href="#g1" x="524" y="428"/><use href="#gm" x="530" y="428"/><use href="#g1" x="536" y="428"/><use href="#g3" x="542" y="428"/></g><g aria-label="ND 9567-2R"><use href="#gN" x="400" y="458"/><use href="#gD" x="406" y="458"/><use href="#g9" x="418" y="458"/><use href="#g5" x="424" y="458"/><use href="#g6" x="430" y="458"/><use href="#g7" x="436" y="458"/><use href="#gm" x="442" y="458"/><use href="#g2" x="448" y="458"/><use href="#gR" x="454" y="458"/></g><path fill="#ff8000" d="M445 460h3v1h-3zM448 459h6v1h-6zM454 458h5v1h-5zM459 457h6v1h-6zM465 456h5v1h-5zM470 455h6v1h-6zM476 454h5v1h-5zM481 453h6v1h-6zM487 452h5v1h-5zM492 451h6v1h-6zM498 450h3v1h-3zM445 460h3v1h-3zM448 461h6v1h-6zM454 462h5v1h-5zM459 463h6v1h-6zM465 464h5v1h-5zM470 465h6v1h-6zM476 466h5v1h-5zM481 467h6v1h-6zM487 468h5v1h-5zM492 469h6v1h-6zM498 470h3v1h-3z"/><g aria-label="ND 8692-4"><use href="#gN" x="500" y="448"/><use href="#gD" x="506" y="448"/><use href="#g8" x="518" y="448"/><use href="#g6" x="524" y="448"/><use href="#g9" x="530" y="448"/><use href="#g2" x="536" y="448"/><use href="#gm" x="542" y="448"/><use href="#g4" x="548" y="448"/></g><g aria-label="ND 8603-6"><use href="#gN" x="500" y="468"/><use href="#gD" x="506" y="468"/><use href="#g8" x="518" y="468"/><use href="#g6" x="524" y="468"/><use href="#g0" x="530" y="468"/><use href="#g3" x="536" y="468"/><use href="#gm" x="542" y="468"/><use href="#g6" x="548" y="468"/></g><g aria-label="SUMMIT RUSSET"><use href="#gS" x="200" y="558"/><use href="#gU" x="206" y="558"/><use href="#gM" x="212" y="558"/><use href="#gM" x="218" y="558"/><use href="#gI" x="224" y="558"/><use href="#gT" x="230" y="558"/><use href="#gR" x="242" y="558"/><use href="#gU" x="248" y="558"/><use href="#gS" x="254" y="558"/><use href="#gS" x="260" y="558"/><use href="#gE" x="266" y="558"/><use href="#gT" x="272" y="558"/></g><path fill="#ff8000" d="M245 560h1v1h-1zM246 559h2v1h-2zM248 558h1v1h-1zM249 557h1v1h-1zM250 556h2v1h-2zM252 555h1v1h-1zM253 554h1v1h-1zM254 553h2v1h-2zM256 552h1v1h-1zM257 551h2v1h-2zM259 550h1v1h-1zM260 549h1v1h-1zM261 548h2v1h-2zM263 547h1v1h-1zM264 546h1v1h-1zM265 545h2v1h-2zM267 544h1v1h-1zM268 543h2v1h-2zM270 542h1v1h-1zM271 541h1v1h-1zM272 540h2v1h-2zM274 539h1v1h-1zM275 538h1v1h-1zM276 537h2v1h-2zM278 536h1v1h-1zM279 535h2v1h-2zM281 534h1v1h-1zM282 533h1v1h-1zM283 532h2v1h-2zM285 531h1v1h-1zM286 530h1v1h-1zM287 529h2v1h-2zM289 528h1v1h-1zM290 527h2v1h-2zM292 526h1v1h-1zM293 525h1v1h-1zM294 524h2v1h-2zM296 523h1v1h-1zM297 522h1v1h-1zM298 521h2v1h-2zM300 520h1v1h-1zM245 560h1v1h-1zM246 561h2v1h-2zM248 562h1v1h-1zM249 563h1v1h-1zM250 564h2v1h-2zM252 565h1v1h-1zM253 566h1v1h-1zM254 567h2v1h-2zM256 568h1v1h-1zM257 569h2v1h-2zM259 570h1v1h-1zM260 571h1v1h-1zM261 572h2v1h-2zM263 573h1v1h-1zM264 574h1v1h-1zM265 575h2v1h-2zM267 576h1v1h-1zM268 577h2v1h-2zM270 578h1v1h-1zM271 579h1v1h-1zM272 580h2v1h-2zM274 581h1v1h-1zM275 582h1v1h-1zM276 583h2v1h-2zM278 584h1v1h-1zM279 585h2v1h-2zM281 586h1v1h-1zM282 587h1v1h-1zM283 588h2v1h-2zM285 589h1v1h-1zM286 590h1v1h-1zM287 591h2v1h-2zM289 592h1v1h-1zM290 593h2v1h-2zM292 594h1v1h-1zM293 595h1v1h-1zM294 596h2v1h-2zM296 597h1v1h-1zM297 598h1v1h-1zM298 599h2v1h-2zM300 600h1v1h-1z"/><g aria-label="A 77236-6"><use href="#gA" x="300" y="518"/><use href="#g7" x="312" y="518"/><use href="#g7" x="318" y="518"/><use href="#g2" x="324" y="518"/><use href="#g3" x="330" y="518"/><use href="#g6" x="336" y="518"/><use href="#gm" x="342" y="518"/><use href="#g6" x="348" y="518"/></g><path fill="#ff8000" d="M345 520h2v1h-2zM347 519h3v1h-3zM350 518h2v1h-2zM352 517h3v1h-3zM355 516h3v1h-3zM358 515h3v1h-3zM361 514h2v1h-2zM363 513h3v1h-3zM366 512h3v1h-3zM369 511h3v1h-3zM372 510h2v1h-2zM374 509h3v1h-3zM377 508h3v1h-3zM380 507h3v1h-3zM383 506h2v1h-2zM385 505h3v1h-3zM388 504h3v1h-3zM391 503h3v1h-3zM394 502h2v1h-2zM396 501h3v1h-3zM399 500h2v1h-2zM345 520h2v1h-2zM347 521h3v1h-3zM350 522h2v1h-2zM352 523h3v1h-3zM355 524h3v1h-3zM358 525h3v1h-3zM361 526h2v1h-2zM363 527h3v1h-3zM366 528h3v1h-3zM369 529h3v1h-3zM372 530h2v1h-2zM374 531h3v1h-3zM377 532h3v1h-3zM380 533h3v1h-3zM383 534h2v1h-2zM385 535h3v1h-3zM388 536h3v1h-3zM391 537h3v1h-3zM394 538h2v1h-2zM396 539h3v1h-3zM399 540h2v1h-2z"/><g aria-label="A 67315-7"><use href="#gA" x="400" y="498"/><use href="#g6" x="412" y="498"/><use href="#g7" x="418" y="498"/><use href="#g3" x="424" y="498"/><use href="#g1" x="430" y="498"/><use href="#g5" x="436" y="498"/><use href="#gm" x="442" y="498"/><use href="#g7" x="448" y="498"/></g><path fill="#ff8000" d="M445 500h3v1h-3zM448 499h6v1h-6zM454 498h5v1h-5zM459 497h6v1h-6zM465 496h5v1h-5zM470 495h6v1h-6zM476 494h5v1h-5zM481 493h6v1h-6zM487 492h5v1h-5zM492 491h6v1h-6zM498 490h3v1h-3zM445 500h3v1h-3zM448 501h6v1h-6zM454 502h5v1h-5zM459 503h6v1h-6zM465 504h5v1h-5zM470 505h6v1h-6zM476 506h5v1h-5zM481 507h6v1h-6zM487 508h5v1h-5zM492 509h6v1h-6zM498 510h3v1h-3z"/><g aria-label="A 62155-4"><use href="#gA" x="500" y="488"/><use href="#g6" x="512" y="488"/><use href="#g2" x="518" y="488"/><use href="#g1" x="524" y="488"/><use href="#g5" x="530" y="488"/><use href="#g5" x="536" y="488"/><use href="#gm" x="542" y="488"/><use href="#g4" x="548" y="488"/></g><g aria-label="A 6356-9"><use href="#gA" x="500" y="508"/><use href="#g6" x="512" y="508"/><use href="#g3" x="518" y="508"/><use href="#g5" x="524" y="508"/><use href="#g6" x="530" y="508"/><use href="#gm" x="536" y="508"/><use href="#g9" x="542" y="508"/></g><g aria-label="A 70906-1"><use href="#gA" x="400" y="538"/><use href="#g7" x="412" y="538"/><use href="#g0" x="418" y="538"/><use href="#g9" x="424" y="538"/><use href="#g0" x="430" y="538"/><use href="#g6" x="436" y="538"/><use href="#gm" x="442" y="538"/><use href="#g1" x="448" y="538"/></g><path fill="#ff8000" d="M445 540h3v1h-3zM448 539h6v1h-6zM454 538h5v1h-5zM459 537h6v1h-6zM465 536h5v1h-5zM470 535h6v1h-6zM476 534h5v1h-5zM481 533h6v1h-6zM487 532h5v1h-5zM492 531h6v1h-6zM498 530h3v1h-3zM445 540h3v1h-3zM448 541h6v1h-6zM454 542h5v1h-5zM459 543h6v1h-6zM465 544h5v1h-5zM470 545h6v1h-6zM476 546h5v1h-5zM481 547h6v1h-6zM487 548h5v1h-5zM492 549h6v1h-6zM498 550h3v1h-3z"/><g aria-label="USDA B 6715-8A"><use href="#gU" x="500" y="528"/><use href="#gS" x="506" y="528"/><use href="#gD" x="512" y="528"/><use href="#gA" x="518" y="528"/><use href="#gB" x="530" y="528"/><use href="#g6" x="542" y="528"/><use href="#g7" x="548" y="528"/><use href="#g1" x="554" y="528"/><use href="#g5" x="560" y="528"/><use href="#gm" x="566" y="528"/><use href="#g8" x="572" y="528"/><use href="#gA" x="578" y="528"/></g><g aria-label="A 6371-3"><use href="#gA" x="500" y="548"/><use href="#g6" x="512" y="548"/><use href="#g3" x="518" y="548"/><use href="#g7" x="524" y="548"/><use href="#g1" x="530" y="548"/><use href="#gm" x="536" y="548"/><use href="#g3" x="542" y="548"/></g><g aria-label="TND 329-1R"><use href="#gT" x="300" y="598"/><use href="#gN" x="306" y="598"/><use href="#gD" x="312" y="598"/><use href="#g3" x="324" y="598"/><use href="#g2" x="330" y="598"/><use href="#g9" x="336" y="598"/><use href="#gm" x="342" y="598"/><use href="#g1" x="348" y="598"/><use href="#gR" x="354" y="598"/></g><path fill="#ff8000" d="M345 600h2v1h-2zM347 599h3v1h-3zM350 598h2v1h-2zM352 597h3v1h-3zM355 596h3v1h-3zM358 595h3v1h-3zM361 594h2v1h-2zM363 593h3v1h-3zM366 592h3v1h-3zM369 591h3v1h-3zM372 590h2v1h-2zM374 589h3v1h-3zM377 588h3v1h-3zM380 587h3v1h-3zM383 586h2v1h-2zM385 585h3v1h-3zM388 584h3v1h-3zM391 583h3v1h-3zM394 582h2v1h-2zM396 581h3v1h-3zM399 580h2v1h-2zM345 600h2v1h-2zM347 601h3v1h-3zM350 602h2v1h-2zM352 603h3v1h-3zM355 604h3v1h-3zM358 605h3v1h-3zM361 606h2v1h-2zM363 607h3v1h-3zM366 608h3v1h-3zM369 609h3v1h-3zM372 610h2v1h-2zM374 611h3v1h-3zM377 612h3v1h-3zM380 613h3v1h-3zM383 614h2v1h-2zM385 615h3v1h-3zM388 616h3v1h-3zM391 617h3v1h-3zM394 618h2v1h-2zM396 619h3v1h-3zM399 620h2v1h-2z"/><g aria-label="WNC 316-1"><use href="#gW" x="400" y="578"/><use href="#gN" x="406" y="578"/><use href="#gC" x="412" y="578"/><use href="#g3" x="424" y="578"/><use href="#g1" x="430" y="578"/><use href="#g6" x="436" y="578"/><use href="#gm" x="442" y="578"/><use href="#g1" x="448" y="578"/></g><path fill="#ff8000" d="M445 580h3v1h-3zM448 579h6v1h-6zM454 578h5v1h-5zM459 577h6v1h-6zM465 576h5v1h-5zM470 575h6v1h-6zM476 574h5v1h-5zM481 573h6v1h-6zM487 572h5v1h-5zM492 571h6v1h-6zM498 570h3v1h-3zM445 580h3v1h-3zM448 581h6v1h-6zM454 582h5v1h-5zM459 583h6v1h-6zM465 584h5v1h-5zM470 585h6v1h-6zM476 586h5v1h-5zM481 587h6v1h-6zM487 588h5v1h-5zM492 589h6v1h-6zM498 590h3v1h-3z"/><g aria-label="W 12-3"><use href="#gW" x="500" y="568"/><use href="#g1" x="512" y="568"/><use href="#g2" x="518" y="568"/><use href="#gm" x="524" y="568"/><use href="#g3" x="530" y="568"/></g><g aria-label="W 245-2"><use href="#gW" x="500" y="588"/><use href="#g2" x="512" y="588"/><use href="#g4" x="518" y="588"/><use href="#g5" x="524" y="588"/><use href="#gm" x="530" y="588"/><use href="#g2" x="536" y="588"/></g><g aria-label="USDA B 7008-2"><use href="#gU" x="400" y="618"/><use href="#gS" x="406" y="618"/><use href="#gD" x="412" y="618"/><use href="#gA" x="418" y="618"/><use href="#gB" x="430" y="618"/><use href="#g7" x="442" y="618"/><use href="#g0" x="448" y="618"/><use href="#g0" x="454" y="618"/><use href="#g8" x="460" y="618"/><use href="#gm" x="466" y="618"/><use href="#g2" x="472" y="618"/></g><path fill="#ff8000" d="M445 620h3v1h-3zM448 619h6v1h-6zM454 618h5v1h-5zM459 617h6v1h-6zM465 616h5v1h-5zM470 615h6v1h-6zM476 614h5v1h-5zM481 613h6v1h-6zM487 612h5v1h-5zM492 611h6v1h-6zM498 610h3v1h-3zM445 620h3v1h-3zM448 621h6v1h-6zM454 622h5v1h-5zM459 623h6v1h-6zM465 624h5v1h-5zM470 625h6v1h-6zM476 626h5v1h-5zM481 627h6v1h-6zM487 628h5v1h-5zM492 629h6v1h-6zM498 630h3v1h-3z"/><g aria-label="WAUSEON"><use href="#gW" x="500" y="608"/><use href="#gA" x="506" y="608"/><use href="#gU" x="512" y="608"/><use href="#gS" x="518" y="608"/><use href="#gE" x="524" y="608"/><use href="#gO" x="530" y="608"/><use href="#gN" x="536" y="608"/></g><g aria-label="W 245-2"><use href="#gW" x="500" y="628"/><use href="#g2" x="512" y="628"/><use href="#g4" x="518" y="628"/><use href="#g5" x="524" y="628"/><use href="#gm" x="530" y="628"/><use href="#g2" x="536" y="628"/></g>
</g>
</svg>
</body></html>
